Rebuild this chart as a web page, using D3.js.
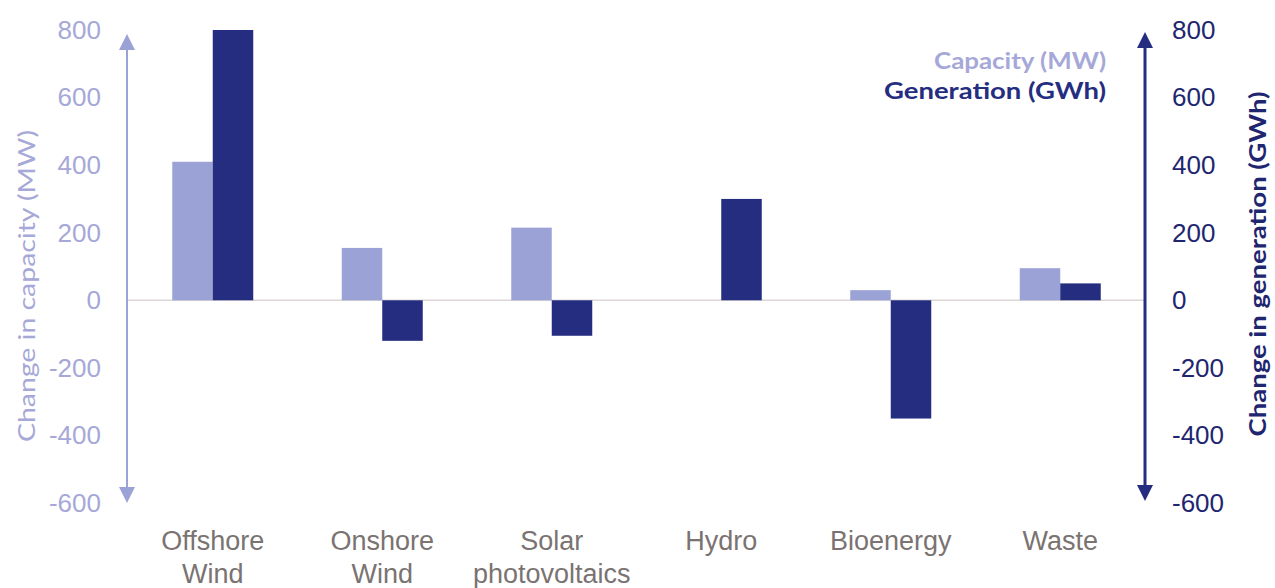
<!DOCTYPE html>
<html>
<head>
<meta charset="utf-8">
<script src="https://cdn.jsdelivr.net/npm/d3@7"></script>
<style>
  html, body { margin: 0; padding: 0; background: #ffffff; }
  svg { display: block; }
</style>
</head>
<body>
<svg id="chart" width="1275" height="588"></svg>
<script>
// Year-on-year change in renewable capacity and generation by technology
const categories = [["Offshore", "Wind"], ["Onshore", "Wind"], ["Solar", "photovoltaics"], ["Hydro"], ["Bioenergy"], ["Waste"]];
const capacityMW = [410, 155, 215, 0, 30, 95];
const generationGWh = [800, -120, -105, 300, -350, 50];
const tickValues = [-600, -400, -200, 0, 200, 400, 600, 800];
const seriesNames = ["Capacity (MW)", "Generation (GWh)"];

const LIGHT = "#9ba3d6";
const DARK = "#252d80";
const LIGHT_TEXT = "#a6a8d8";
const DARK_TEXT = "#1f2670";
const CAT_TEXT = "#7a7371";
const TITLE_FONT = "Lato, 'Open Sans', sans-serif";
const TICK_FONT = "'Liberation Sans', Arial, sans-serif";

const svg = d3.select("#chart");

const x0 = d3.scaleBand().domain(d3.range(categories.length)).range([128, 1145]).padding(0);
const barW = 40.5;
const x1 = d3.scaleBand().domain([0, 1])
  .range([x0.bandwidth() / 2 - barW, x0.bandwidth() / 2 + barW]).padding(0);

const yL = d3.scaleLinear().domain([-600, 800]).range([503, 30]);
const yR = d3.scaleLinear().domain([-600, 800]).range([503, 30]);

// zero line
svg.append("line")
  .attr("x1", 128).attr("x2", 1145)
  .attr("y1", yL(0)).attr("y2", yL(0))
  .attr("stroke", "#dcd6d6").attr("stroke-width", 1.5);

// bars
const rows = categories.map((c, i) => ({ i, cap: capacityMW[i], gen: generationGWh[i] }));
const g = svg.append("g");
g.selectAll("rect.cap").data(rows).join("rect")
  .attr("class", "cap")
  .attr("x", d => x0(d.i) + x1(0))
  .attr("width", x1.bandwidth())
  .attr("y", d => yL(Math.max(0, d.cap)))
  .attr("height", d => Math.abs(yL(d.cap) - yL(0)))
  .attr("fill", LIGHT);
g.selectAll("rect.gen").data(rows).join("rect")
  .attr("class", "gen")
  .attr("x", d => x0(d.i) + x1(1))
  .attr("width", x1.bandwidth())
  .attr("y", d => yR(Math.max(0, d.gen)))
  .attr("height", d => Math.abs(yR(d.gen) - yR(0)))
  .attr("fill", DARK);

// double-headed axis arrows
const defs = svg.append("defs");
function marker(id, color) {
  defs.append("marker")
    .attr("id", id).attr("viewBox", "0 0 10 10")
    .attr("refX", 5).attr("refY", 5)
    .attr("markerUnits", "userSpaceOnUse")
    .attr("markerWidth", 16).attr("markerHeight", 18)
    .attr("orient", "auto-start-reverse")
    .append("path").attr("d", "M0,0 L10,5 L0,10 Z").attr("fill", color);
}
marker("arrL", LIGHT);
marker("arrR", DARK);

const tickFmt = d => String(d);

// left axis
const axL = d3.axisLeft(yL).tickValues(tickValues).tickSize(0).tickPadding(26).tickFormat(tickFmt);
const gL = svg.append("g").attr("transform", "translate(127,0)").call(axL);
gL.select(".domain").remove();
gL.selectAll("text")
  .attr("fill", LIGHT_TEXT)
  .style("font-family", TICK_FONT)
  .style("font-size", "26px");
svg.append("line")
  .attr("x1", 127).attr("x2", 127)
  .attr("y1", yL(-600) - 8).attr("y2", yL(800) + 12)
  .attr("stroke", LIGHT).attr("stroke-width", 2)
  .attr("marker-start", "url(#arrL)").attr("marker-end", "url(#arrL)");

// right axis
const axR = d3.axisRight(yR).tickValues(tickValues).tickSize(0).tickPadding(27).tickFormat(tickFmt);
const gR = svg.append("g").attr("transform", "translate(1145,0)").call(axR);
gR.select(".domain").remove();
gR.selectAll("text")
  .attr("fill", DARK_TEXT)
  .style("font-family", TICK_FONT)
  .style("font-size", "26px");
svg.append("line")
  .attr("x1", 1145).attr("x2", 1145)
  .attr("y1", yR(-600) - 10).attr("y2", yR(800) + 10)
  .attr("stroke", DARK).attr("stroke-width", 3)
  .attr("marker-start", "url(#arrR)").attr("marker-end", "url(#arrR)");

// category labels
const catG = svg.append("g");
categories.forEach((lines, i) => {
  const cx = x0(i) + x0.bandwidth() / 2;
  const t = catG.append("text")
    .attr("x", cx)
    .attr("y", 550)
    .attr("text-anchor", "middle")
    .attr("fill", CAT_TEXT)
    .style("font-family", TICK_FONT)
    .style("font-size", "27px");
  lines.forEach((s, k) => {
    t.append("tspan").attr("x", cx).attr("dy", k === 0 ? 0 : 33).text(s);
  });
});

// axis titles
svg.append("text")
  .attr("transform", "translate(35,286) rotate(-90)")
  .attr("text-anchor", "middle")
  .attr("fill", LIGHT_TEXT)
  .style("font-family", TITLE_FONT)
  .style("font-size", "23px")
  .attr("textLength", 312)
  .attr("lengthAdjust", "spacingAndGlyphs")
  .text("Change in capacity (MW)");
svg.append("text")
  .attr("transform", "translate(1266,264) rotate(-90)")
  .attr("text-anchor", "middle")
  .attr("fill", DARK_TEXT)
  .style("font-family", TITLE_FONT)
  .style("font-weight", "bold")
  .style("font-size", "22px")
  .attr("textLength", 345)
  .attr("lengthAdjust", "spacingAndGlyphs")
  .text("Change in generation (GWh)");

// legend
const leg = svg.append("g")
  .style("font-family", TITLE_FONT)
  .style("font-weight", "bold")
  .style("font-size", "23px")
  .attr("text-anchor", "end");
leg.append("text").attr("x", 1106).attr("y", 69).attr("fill", LIGHT_TEXT)
  .attr("textLength", 172).attr("lengthAdjust", "spacingAndGlyphs").text(seriesNames[0]);
leg.append("text").attr("x", 1106).attr("y", 99).attr("fill", DARK)
  .attr("textLength", 222).attr("lengthAdjust", "spacingAndGlyphs").text(seriesNames[1]);
</script>
</body>
</html>
